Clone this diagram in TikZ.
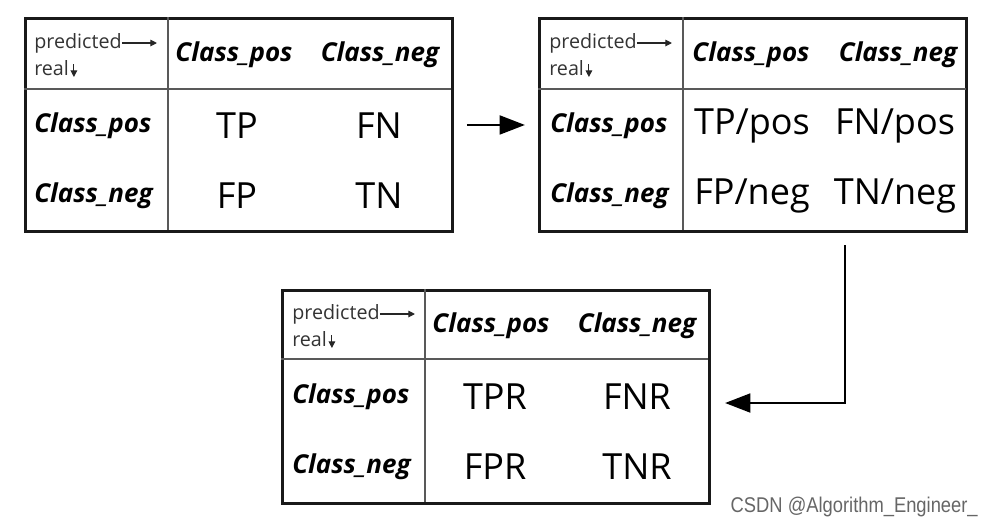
\documentclass[tikz,border=0pt]{standalone}
\usepackage{fontspec}
\setmainfont{Open Sans}
\newfontfamily\wmfont[FakeStretch=0.86]{Liberation Sans}
\usetikzlibrary{arrows.meta}
\tikzset{
  tbox/.style={draw=black!90, line width=2.2pt, minimum width=320.25pt, minimum height=159.75pt, anchor=north west, inner sep=0pt},
  divline/.style={draw=black!65, line width=1pt},
  hdr/.style={font=\fontsize{19.5}{22}\selectfont\bfseries\itshape, inner sep=0pt},
  ent/.style={font=\fontsize{27}{30}\selectfont, inner sep=0pt},
  smalltxt/.style={font=\fontsize{14.8}{16}\selectfont, text=black!80, inner sep=0pt, anchor=west},
  smallarr/.style={draw=black!85, line width=0.8pt, -{Triangle[length=5pt,width=5pt]}},
  bigarrow/.style={draw=black, line width=2.2pt, -{Triangle[length=19pt,width=14pt]}},
  wm/.style={font=\wmfont\fontsize{16}{18}\selectfont, text=black!60, inner sep=0pt}
}
\begin{document}
\begin{tikzpicture}[x=0.75pt,y=-0.75pt]
\useasboundingbox (0,0) rectangle (992,526);

% ---------- Table 1 ----------
\node[tbox] (t1box) at (24,17) {};
\draw[divline] (t1box.north west) ++(144,0) -- ++(0,213);
\draw[divline] (t1box.north west) ++(0,72) -- ++(427,0);
\node[smalltxt] (t1pred) at (34,43) {predicted};
\draw[smallarr] (t1pred.east) -- ++(35,0);
\node[smalltxt] (t1real) at (34,68) {real};
\draw[smallarr] ([xshift=3.5pt,yshift=3pt]t1real.east) -- ++(0,13);
\node[hdr] (t1h1) at (234,55) {Class\_pos};
\node[hdr] (t1h2) at (380,55) {Class\_neg};
\node[hdr,anchor=west] (t1r1) at (34,126) {Class\_pos};
\node[hdr,anchor=west] (t1r2) at (34,196) {Class\_neg};
\node[ent] (t1a) at (237,126) {TP};
\node[ent] (t1b) at (379,126) {FN};
\node[ent] (t1c) at (237,196) {FP};
\node[ent] (t1d) at (379,196) {TN};

% ---------- Table 2 ----------
\node[tbox] (t2box) at (538,17) {};
\draw[divline] (t2box.north west) ++(145,0) -- ++(0,213);
\draw[divline] (t2box.north west) ++(0,72) -- ++(428,0);
\node[smalltxt] (t2pred) at (549,43) {predicted};
\draw[smallarr] (t2pred.east) -- ++(35,0);
\node[smalltxt] (t2real) at (549,68) {real};
\draw[smallarr] ([xshift=3.5pt,yshift=3pt]t2real.east) -- ++(0,13);
\node[hdr] (t2h1) at (751,55) {Class\_pos};
\node[hdr] (t2h2) at (898,55) {Class\_neg};
\node[hdr,anchor=west] (t2r1) at (550,126) {Class\_pos};
\node[hdr,anchor=west] (t2r2) at (550,196) {Class\_neg};
\node[ent] (t2a) at (752,126) {TP/pos};
\node[ent] (t2b) at (895,126) {FN/pos};
\node[ent] (t2c) at (752,196) {FP/neg};
\node[ent] (t2d) at (895,196) {TN/neg};

% ---------- Table 3 ----------
\node[tbox] (t3box) at (281,289) {};
\draw[divline] (t3box.north west) ++(144,0) -- ++(0,213);
\draw[divline] (t3box.north west) ++(0,70) -- ++(427,0);
\node[smalltxt] (t3pred) at (292,314) {predicted};
\draw[smallarr] (t3pred.east) -- ++(35,0);
\node[smalltxt] (t3real) at (292,339) {real};
\draw[smallarr] ([xshift=3.5pt,yshift=3pt]t3real.east) -- ++(0,13);
\node[hdr] (t3h1) at (491,326) {Class\_pos};
\node[hdr] (t3h2) at (637,326) {Class\_neg};
\node[hdr,anchor=west] (t3r1) at (292,397) {Class\_pos};
\node[hdr,anchor=west] (t3r2) at (292,467) {Class\_neg};
\node[ent] (t3a) at (495,397) {TPR};
\node[ent] (t3b) at (637,397) {FNR};
\node[ent] (t3c) at (495,467) {FPR};
\node[ent] (t3d) at (637,467) {TNR};

% ---------- Connectors ----------
\draw[bigarrow, shorten <=9.75pt, shorten >=9.75pt] (t1box.east) -- (t2box.west);
\coordinate (a2s) at (845,245);
\coordinate (a2e) at (725,403);
\draw[bigarrow] (a2s) |- (a2e);

% ---------- Watermark ----------
\node[wm, anchor=east] (wm) at (978,507) {CSDN @Algorithm\_Engineer\_};
\end{tikzpicture}
\end{document}
